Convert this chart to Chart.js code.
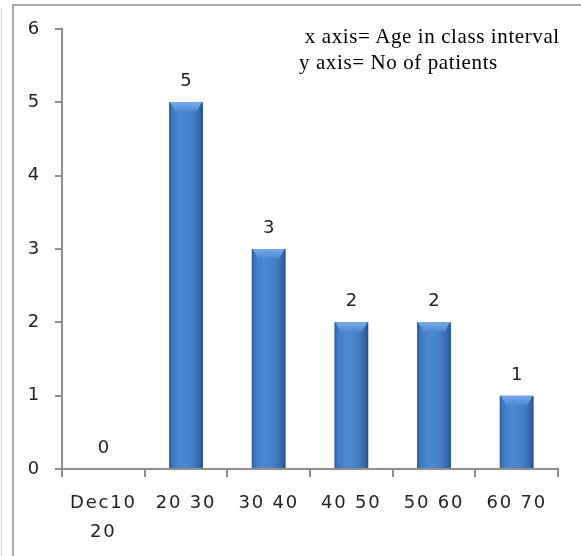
<!DOCTYPE html>
<html>
<head>
<meta charset="utf-8">
<script src="https://cdn.jsdelivr.net/npm/chart.js@4"></script>
<style>
  html, body { margin: 0; padding: 0; background: #fff; }
  #wrap { position: relative; width: 581px; height: 556px; overflow: hidden; }
  #edge { position: absolute; left: 1px; top: 8px; width: 1px; height: 548px; background: #d4d4d4; }
  #frame { position: absolute; left: 12px; top: 4px; right: -4px; bottom: -4px;
           border-left: 2px solid #a9a9a9; border-top: 2px solid #a9a9a9; }
  #note { position: absolute; left: 299px; top: 23px; font-family: "Liberation Serif", serif;
          font-size: 21px; letter-spacing: 0.6px; line-height: 26px; color: #000; white-space: nowrap; }
  canvas { position: absolute; left: 0; top: 0; }
</style>
</head>
<body>
<div id="wrap">
  <div id="edge"></div>
  <div id="frame"></div>
  <canvas id="ageChart" width="581" height="556"></canvas>
  <div id="note">&nbsp;x axis= Age in class interval<br>y axis= No of patients</div>
</div>
<script>
const ageGroups = [['Dec10', '20'], '20 30', '30 40', '40 50', '50 60', '60 70'];
const patients = [0, 5, 3, 2, 2, 1];
const yTicks = [0, 1, 2, 3, 4, 5, 6];

const axisGray = '#8e8e8e';
const barFrac = 0.41;

// cylinder-ish shading across each bar
function barFill(c) {
    const chart = c.chart;
    const xs = chart.scales.x;
    if (!xs || c.type !== 'data') return '#4179c0';
    const cx = xs.getPixelForValue(c.dataIndex);
    const w = xs.width / ageGroups.length * barFrac;
    if (!isFinite(cx) || !isFinite(w) || w <= 0) return '#4179c0';
    const g = chart.ctx.createLinearGradient(cx - w / 2, 0, cx + w / 2, 0);
    g.addColorStop(0, '#2c5a98');
    g.addColorStop(0.1, '#3f79c2');
    g.addColorStop(0.35, '#4d89d2');
    g.addColorStop(0.7, '#447ec6');
    g.addColorStop(0.9, '#3567aa');
    g.addColorStop(1, '#24508a');
    return g;
}

// wider letter spacing for all canvas text
const spacing = {
    id: 'spacing',
    beforeDraw(chart) { chart.ctx.letterSpacing = '1.8px'; }
};

// bevel on the top of each bar, and the value printed above it
const valueLabels = {
    id: 'valueLabels',
    afterDatasetsDraw(chart) {
        const ctx = chart.ctx;
        const meta = chart.getDatasetMeta(0);
        ctx.save();
        meta.data.forEach((bar) => {
            if (bar.base - bar.y < 2) return;
            const l = bar.x - bar.width / 2, r = bar.x + bar.width / 2, t = bar.y;
            const g = ctx.createLinearGradient(0, t, 0, t + 9);
            g.addColorStop(0, '#78a9ea');
            g.addColorStop(1, '#4f8bd3');
            ctx.fillStyle = g;
            ctx.beginPath();
            ctx.moveTo(l + 1, t);
            ctx.lineTo(r - 1, t);
            ctx.lineTo(r - 6, t + 9);
            ctx.lineTo(l + 6, t + 9);
            ctx.closePath();
            ctx.fill();
        });
        ctx.font = '18px "DejaVu Sans"';
        ctx.fillStyle = '#222';
        ctx.textAlign = 'center';
        ctx.textBaseline = 'alphabetic';
        meta.data.forEach((bar, i) => {
            ctx.fillText(String(patients[i]), bar.x + 1, bar.y - 16);
        });
        ctx.restore();
    }
};

new Chart(document.getElementById('ageChart'), {
    type: 'bar',
    data: {
        labels: ageGroups,
        datasets: [{
            label: 'No of patients',
            data: patients,
            backgroundColor: barFill,
            borderWidth: 0,
            barPercentage: barFrac,
            categoryPercentage: 1
        }]
    },
    options: {
        responsive: false,
        animation: false,
        layout: { padding: { top: 29, right: 23, left: 0, bottom: 0 } },
        plugins: {
            legend: { display: false },
            tooltip: { enabled: false }
        },
        scales: {
            x: {
                offset: true,
                grid: {
                    offset: true,
                    drawOnChartArea: false,
                    color: axisGray,
                    tickLength: 8,
                    lineWidth: 2
                },
                border: { color: axisGray, width: 2 },
                ticks: {
                    color: '#222',
                    padding: 11,
                    maxRotation: 0,
                    font: { family: '"DejaVu Sans"', size: 18, lineHeight: 1.65 }
                },
                afterFit(s) { s.height = 87; }
            },
            y: {
                min: 0,
                max: 6,
                afterBuildTicks(s) { s.ticks = yTicks.map(v => ({ value: v })); },
                grid: {
                    drawOnChartArea: false,
                    color: axisGray,
                    tickLength: 7,
                    lineWidth: 2
                },
                border: { color: axisGray, width: 2 },
                ticks: {
                    color: '#222',
                    padding: 14,
                    font: { family: '"DejaVu Sans"', size: 18 }
                },
                afterFit(s) { s.width = 62; }
            }
        }
    },
    plugins: [spacing, valueLabels]
});
</script>
</body>
</html>
